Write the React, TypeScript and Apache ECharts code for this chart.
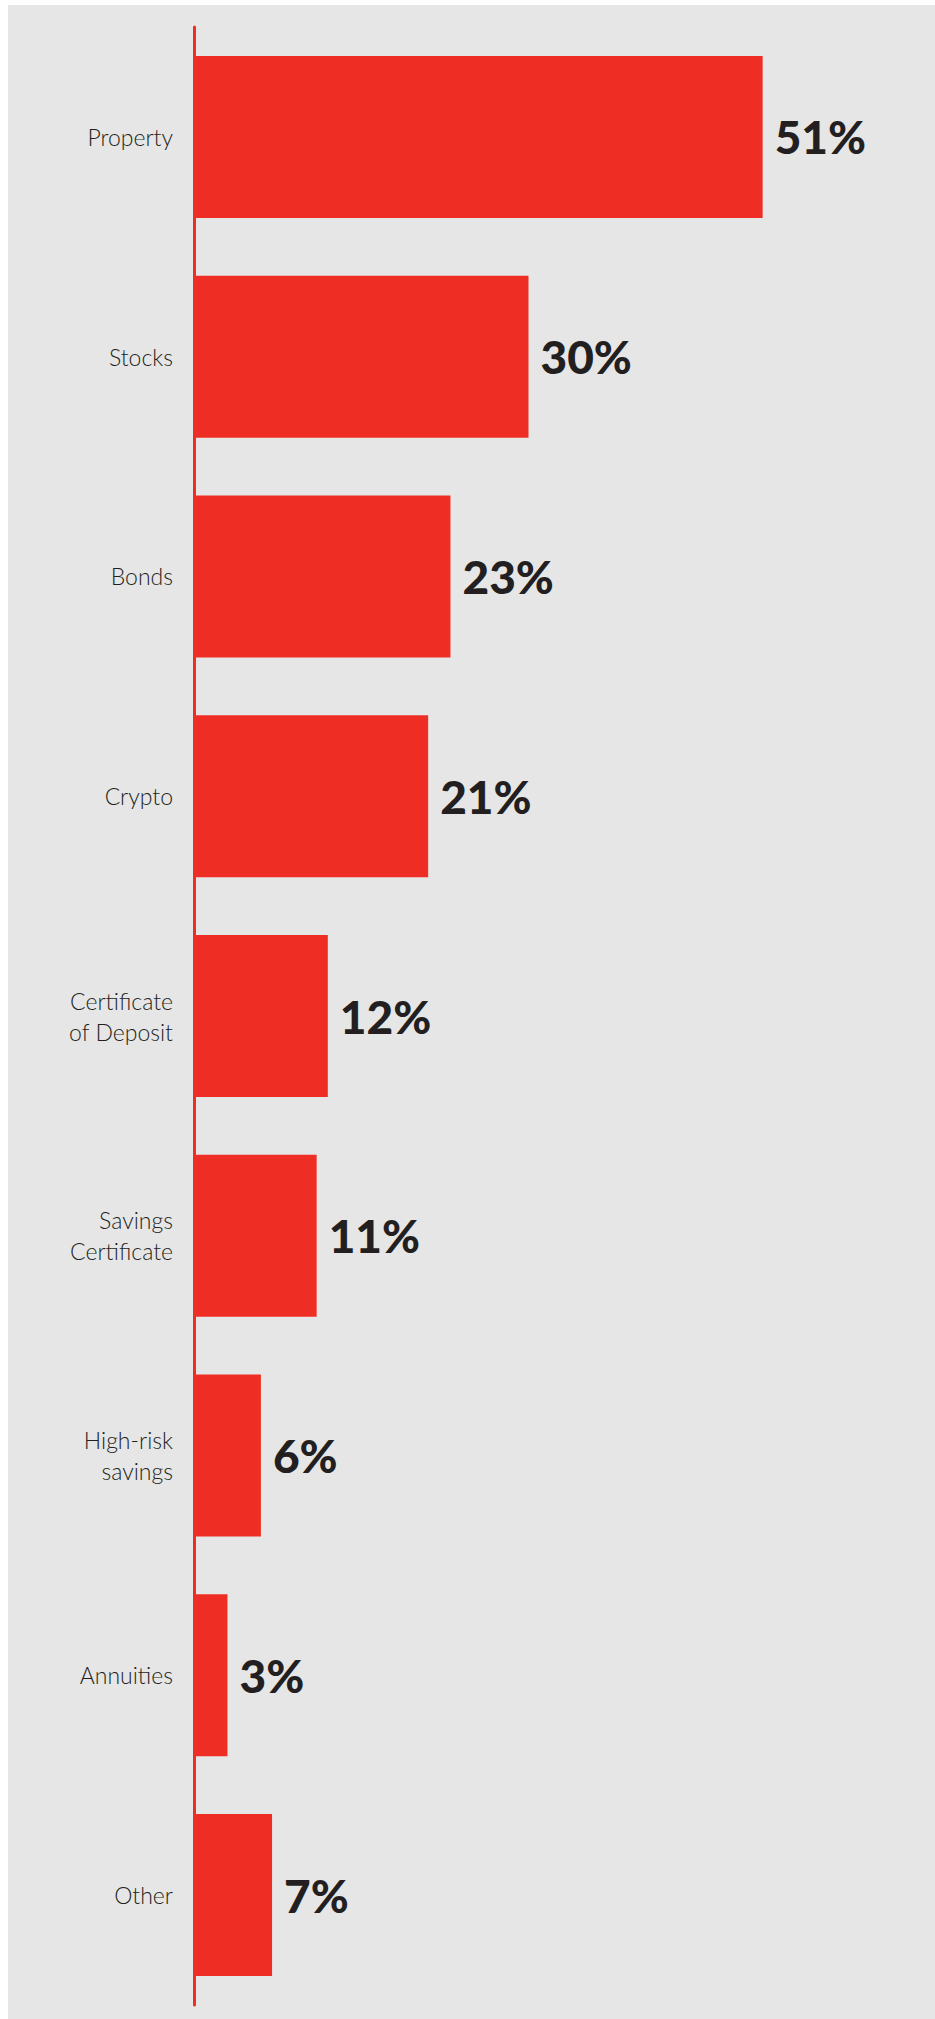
import React, { useEffect, useRef } from "react";
import * as echarts from "echarts";

const categories = [
  "Property",
  "Stocks",
  "Bonds",
  "Crypto",
  "Certificate\nof Deposit",
  "Savings\nCertificate",
  "High-risk\nsavings",
  "Annuities",
  "Other",
];
const values = [51, 30, 23, 21, 12, 11, 6, 3, 7];

const RED = "#ee2e24";
const INK = "#231f20";

export default function App() {
  const ref = useRef<HTMLDivElement>(null);
  useEffect(() => {
    if (!ref.current) return;
    const chart = echarts.init(ref.current, undefined, { renderer: "svg" });
    chart.setOption({
      animation: false,
      backgroundColor: "#e6e6e6",
      grid: { left: 186, top: 22, width: 669, height: 1978, containLabel: false },
      xAxis: {
        type: "value",
        min: 0,
        max: 60,
        show: false,
      },
      yAxis: {
        type: "category",
        inverse: true,
        data: categories,
        axisLine: { show: true, lineStyle: { color: RED, width: 3 } },
        axisTick: { show: false },
        splitLine: { show: false },
        axisLabel: {
          margin: 21,
          fontSize: 23,
          lineHeight: 31,
          color: INK,
          fontFamily: "Lato",
          fontWeight: 300,
        },
      },
      series: [
        {
          type: "bar",
          data: values,
          barCategoryGap: "26.3%",
          itemStyle: { color: RED },
          label: {
            show: true,
            position: "right",
            distance: 12,
            formatter: "{c}%",
            fontSize: 46,
            fontWeight: 900,
            fontFamily: "Lato",
            color: INK,
          },
        },
      ],
    });
    return () => chart.dispose();
  }, []);
  return (
    <div
      ref={ref}
      style={{ position: "absolute", left: 8, top: 5, width: 927, height: 2014 }}
    />
  );
}
